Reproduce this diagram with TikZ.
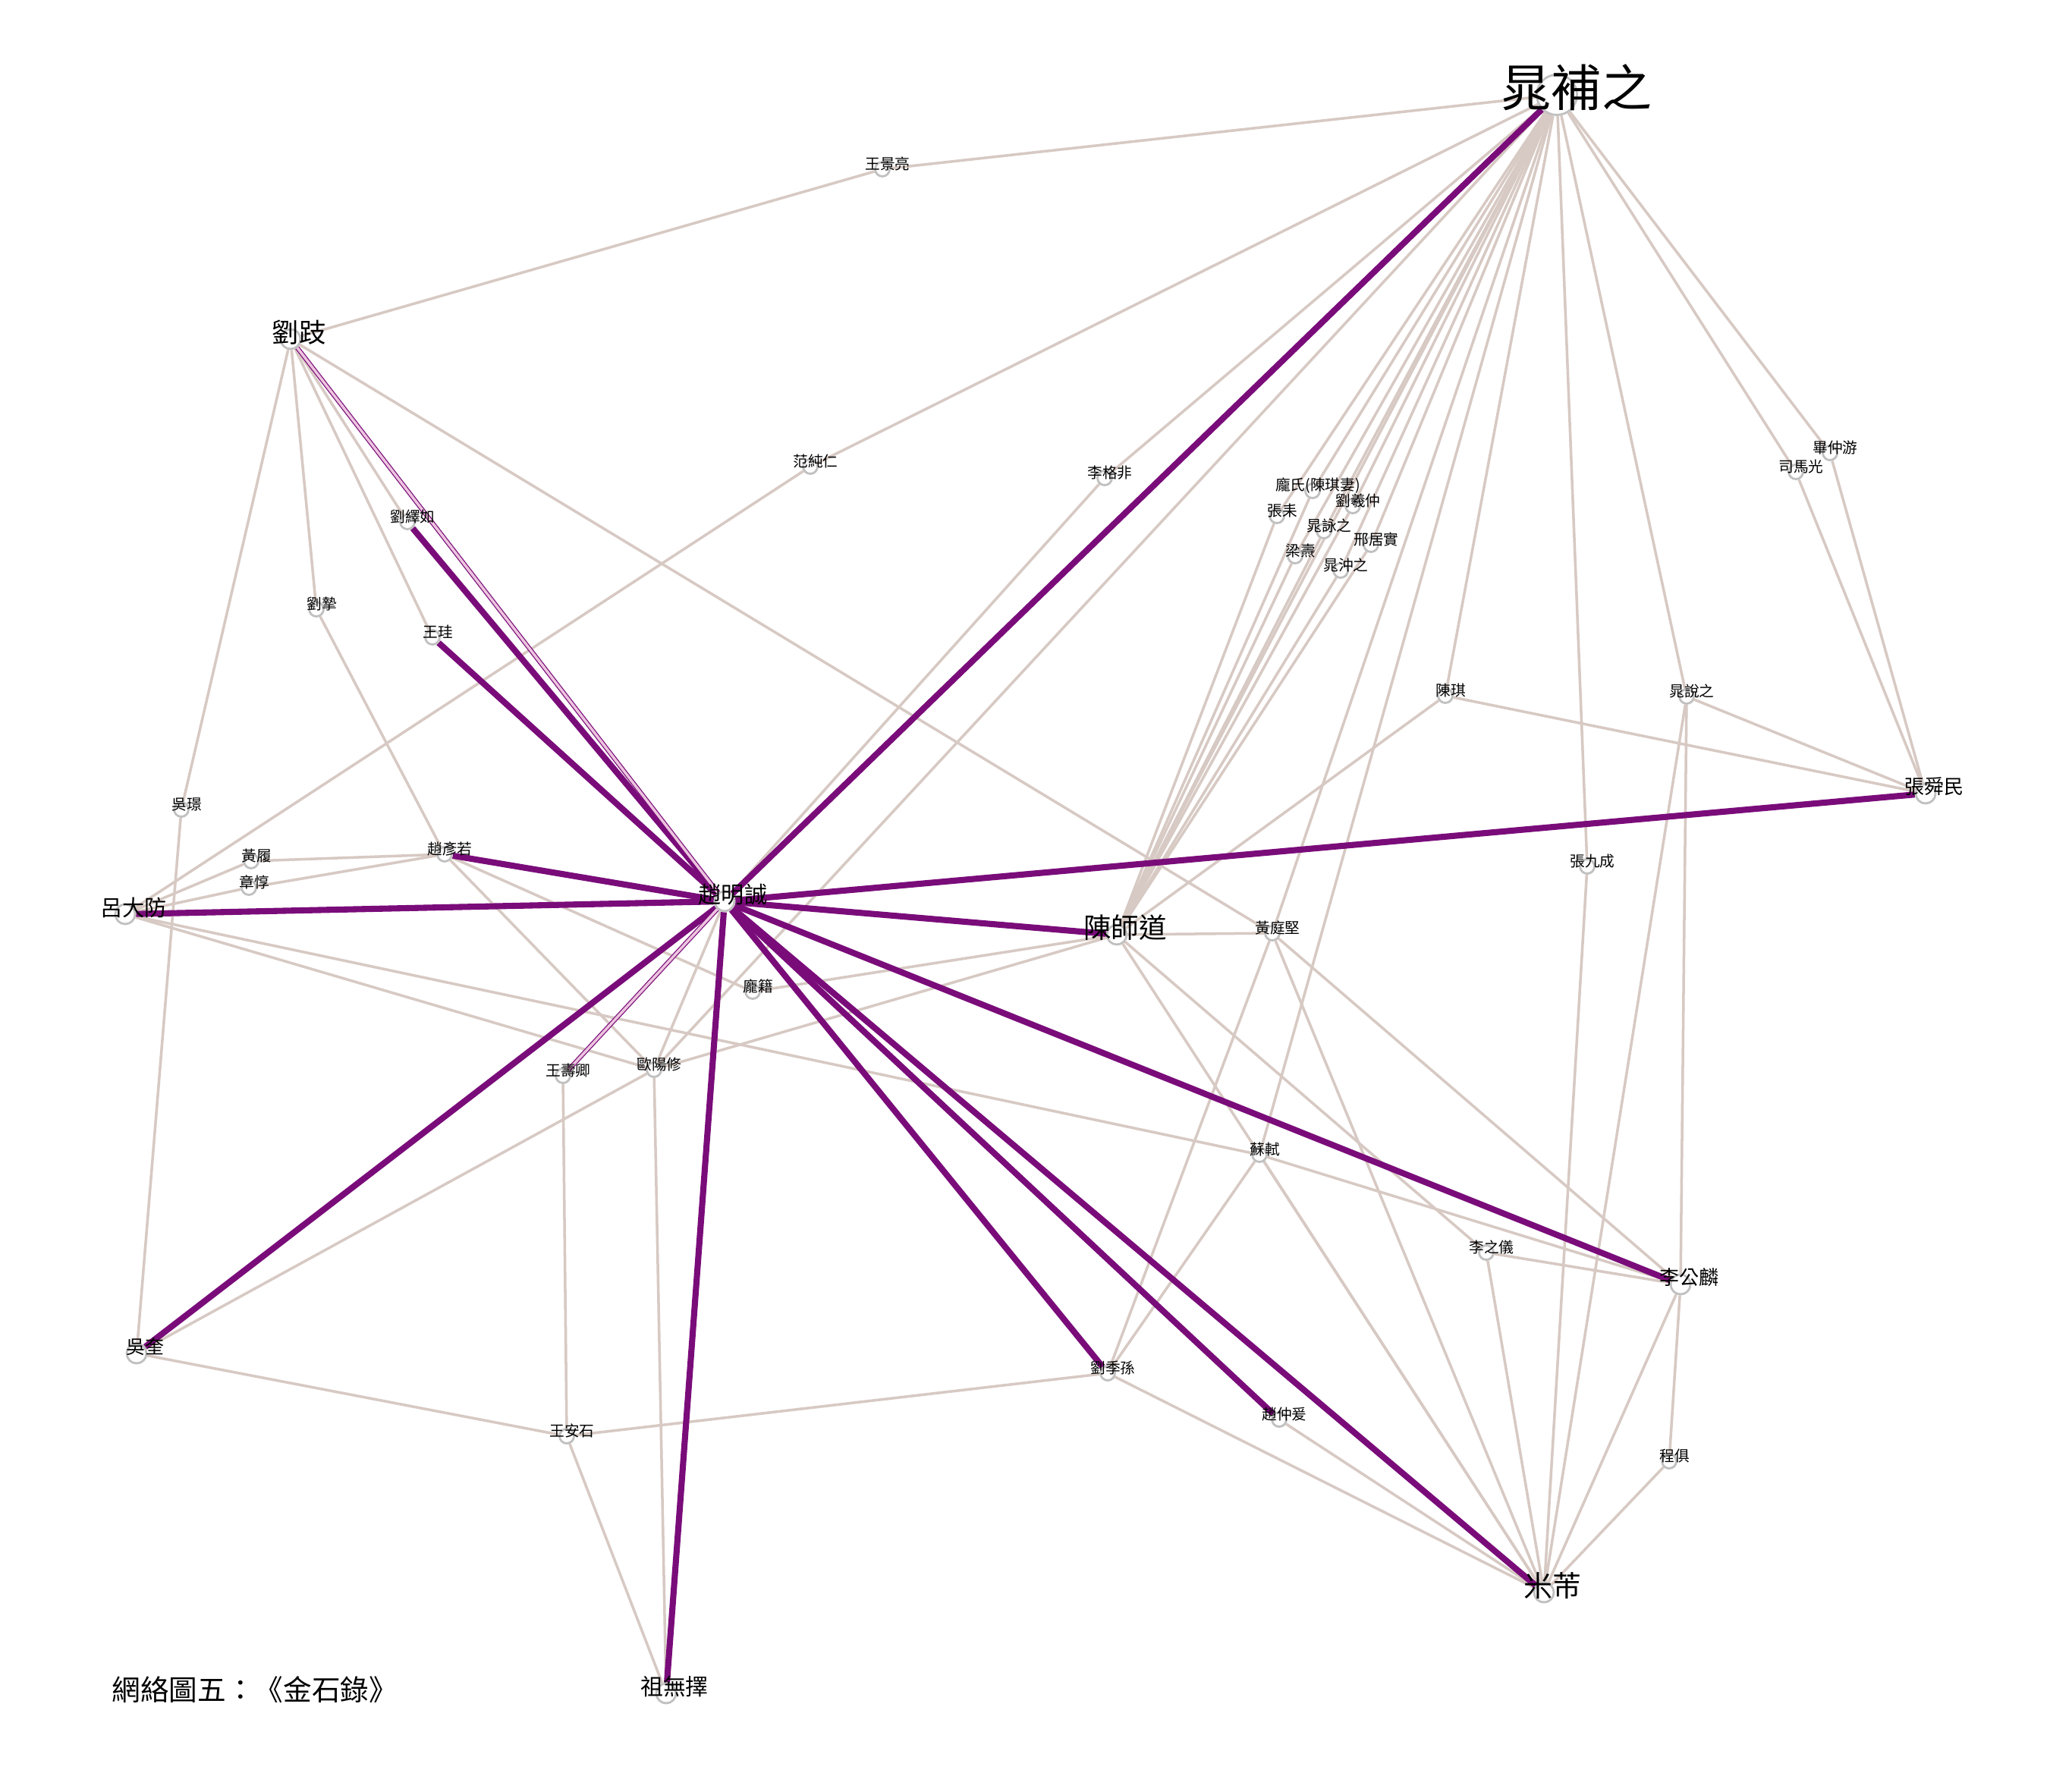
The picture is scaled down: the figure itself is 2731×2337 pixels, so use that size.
\documentclass[tikz,border=0pt]{standalone}
\usepackage{fontspec}
\setmainfont{Noto Sans CJK TC}
\usetikzlibrary{backgrounds}
\definecolor{edgetan}{RGB}{215,201,195}
\definecolor{edgeplum}{RGB}{122,12,122}
\definecolor{edgepink}{RGB}{236,196,222}
\definecolor{ringgray}{RGB}{192,192,192}

\begin{document}
\begin{tikzpicture}[x=0.01cm, y=-0.01cm,
  dot/.style={circle, draw=ringgray, fill=white, line width=0.8pt, inner sep=0pt, minimum size=#1},
  lbl/.style={inner sep=0pt, font=\fontsize{#1pt}{#1pt}\selectfont},
  lite/.style={draw=edgetan, line width=1pt},
  heavy/.style={draw=edgeplum, line width=2.3pt},
  twin/.style={draw=edgeplum, line width=1.7pt},
  twincore/.style={draw=edgepink, line width=1.0pt}]
\useasboundingbox (0,0) rectangle (2731,2337);

% the large node
\node[dot=0.53cm] (chao) at (2052,125) {};
\node[lbl=18.8] (chao-t) at (2078,115) {晁補之};

% medium nodes
\foreach \n/\x/\y/\s/\t in {liuqi/383/447/10.0/劉跂, zhaomc/955/1188/8.6/趙明誠,
    chensd/1472/1232/10.4/陳師道, mifu/2035/2099/10.8/米芾, zuwz/878/2232/8.5/祖無擇,
    lvdf/165/1205/8.3/呂大防, zhangsm/2538/1046/7.4/張舜民, ligl/2215/1693/7.4/李公麟,
    wukui/180/1784/7.1/吳奎}{
  \node[dot=0.26cm] (\n) at (\x,\y) {};
  \node[lbl=\s] (\n-t) at ({\x+11},{\y-9}) {\t};
}

% small nodes
\foreach \n/\x/\y/\t in {wangjl/1163/223/王景亮, fancr/1068/615/范純仁, ligf/1456/630/李格非,
    liuyr/537/688/劉繹如, liuzhi/417/803/劉摯, wanggui/570/840/王珪, wujing/239/1067/吳璟,
    huanglv/331/1135/黃履, zhangdun/328/1170/章惇, zhaoyr/586/1126/趙彥若,
    pangji/992/1307/龐籍, ouyx/862/1410/歐陽修, wangsq/742/1418/王壽卿,
    pangshi/1730/647/{龐氏(陳琪妻)}, liuxz/1783/667/劉羲仲, zhanglei/1683/680/張耒,
    chaoyz/1745/700/晁詠之, xingjs/1807/718/邢居實, liangtao/1707/733/梁燾,
    chaocz/1767/752/晁沖之, biz/2412/597/畢仲游, simg/2367/622/司馬光,
    chenqi/1905/917/陳琪, chaosz/2223/918/晁說之, zhangjc/2092/1142/張九成,
    huangtj/1677/1230/黃庭堅, sushi/1660/1522/蘇軾, lizy/1959/1651/李之儀,
    liujs/1460/1810/劉季孫, zhaozy/1686/1871/趙仲爰, chengju/2200/1926/程俱,
    wangas/747/1893/王安石}{
  \node[dot=0.19cm] (\n) at (\x,\y) {};
  \node[lbl=5.6] (\n-t) at ({\x+7},{\y-7}) {\t};
}

\node[lbl=10.7, anchor=west] (title) at (147,2227) {網絡圖五：《金石錄》};

\begin{pgfonlayer}{background}
\fill[white] (0,0) rectangle (2731,2337);
% light ties
\foreach \a/\b in {chao/wangjl, wangjl/liuqi, chao/fancr, fancr/lvdf, chao/ligf, ligf/zhaomc,
    chao/ouyx, chao/chensd, chao/chenqi, chao/zhangjc, chao/chaosz, chao/biz, chao/simg,
    chao/huangtj, chao/sushi, biz/zhangsm, simg/zhangsm, chaosz/zhangsm, chenqi/zhangsm,
    chenqi/chensd, chaosz/mifu, chaosz/ligl, ligl/chengju, zhangjc/mifu,
    liuqi/wujing, liuqi/liuzhi, liuqi/wanggui, liuqi/liuyr, liuqi/huangtj, wujing/wukui,
    liuzhi/zhaoyr, zhaoyr/huanglv, zhaoyr/zhangdun, zhaoyr/pangji, zhaoyr/ouyx,
    lvdf/huanglv, lvdf/zhangdun, lvdf/ouyx, lvdf/sushi, zhaomc/ouyx, ouyx/zuwz, ouyx/wukui,
    chensd/ouyx, chensd/pangji, chensd/huangtj, chensd/mifu, chensd/lizy,
    huangtj/liujs, huangtj/mifu, huangtj/ligl, sushi/liujs, sushi/mifu, sushi/ligl,
    lizy/ligl, lizy/mifu, liujs/mifu, liujs/wangas, zhaozy/mifu, ligl/mifu, chengju/mifu,
    wukui/wangas, wangas/wangsq, wangas/zuwz}
  \draw[lite] (\a) -- (\b);
% the fan between 晁補之 and 陳師道
\foreach \m in {pangshi, liuxz, zhanglei, chaoyz, xingjs, liangtao, chaocz}{
  \draw[lite] (chao) -- (\m);
  \draw[lite] (\m) -- (chensd);
}
% heavy ties of 趙明誠
\foreach \b in {chao, liuyr, wanggui, zhaoyr, lvdf, wukui, zuwz, liujs, zhaozy, mifu, ligl,
    chensd, zhangsm}
  \draw[heavy] (zhaomc) -- (\b);
\foreach \b in {liuqi, wangsq}{
  \draw[twin] (zhaomc) -- (\b);
  \draw[twincore] (zhaomc) -- (\b);
}
\end{pgfonlayer}
\end{tikzpicture}
\end{document}
